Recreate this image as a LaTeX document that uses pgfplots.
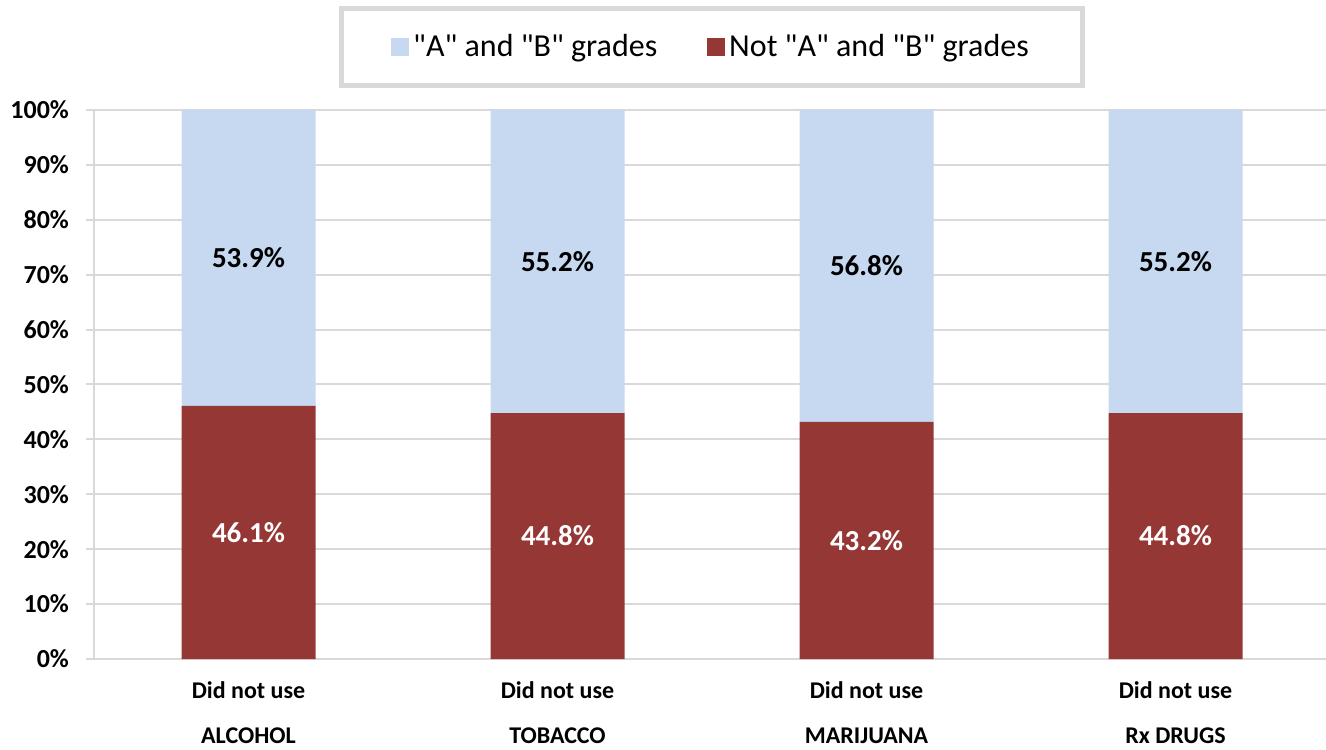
\documentclass[border=0pt]{standalone}
\usepackage{pgfplots}
\pgfplotsset{compat=1.18}
\usepackage{pgfplotstable}
\usepackage{fontspec}
\setmainfont{Carlito}[Ligatures=TeXOff]

\definecolor{gradeAB}{HTML}{C6D9F1}
\definecolor{gradeNot}{HTML}{953735}
\definecolor{gridgray}{HTML}{D9D9D9}

% share of students by grades, among those who did not use each substance
\pgfplotstableread{
x red blue
0 46.1 53.9
1 44.8 55.2
2 43.2 56.8
3 44.8 55.2
}\grades

\begin{document}
\begin{tikzpicture}
\pgfplotsset{
  frame/.style={
    width=616pt, height=274.5pt, scale only axis,
    xmin=-0.5, xmax=3.487, ymin=0, ymax=100,
    /pgf/number format/assume math mode=true,
  }
}
\begin{axis}[frame,
  ybar stacked, bar width=67pt,
  axis x line*=bottom, axis y line*=left,
  axis line style={-, gridgray, line width=1pt},
  ymajorgrids, grid style={gridgray, line width=1pt},
  ytick={0,10,...,100},
  yticklabel={\pgfmathprintnumber{\tick}\%},
  yticklabel style={font=\fontsize{13}{15}\selectfont\bfseries, xshift=-5pt},
  tick align=outside, major tick length=4pt,
  ytick style={gridgray, line width=1pt},
  xtick={0,1,2,3}, xtick style={draw=none},
  xticklabels={{Did not use\\[10.5pt]ALCOHOL},{Did not use\\[10.5pt]TOBACCO},{Did not use\\[10.5pt]MARIJUANA},{Did not use\\[10.5pt]Rx DRUGS}},
  xticklabel style={font=\fontsize{12}{12}\selectfont\bfseries, align=center, yshift=-4pt},
  legend columns=2,
  reverse legend,
  legend image code/.code={\fill[#1] (0pt,-4.5pt) rectangle (9pt,4.5pt);},
  legend style={at={(0.5016,1.115)}, anchor=center, draw=gridgray, line width=2.5pt,
    font=\fontsize{16}{19}\selectfont, inner xsep=25pt, inner ysep=11pt,
    /tikz/every even column/.append style={column sep=23pt}},
]
\addplot[fill=gradeNot, draw=none] table[x=x, y=red]{\grades};
\addlegendentry{Not "A" and "B" grades}
\addplot[fill=gradeAB, draw=none] table[x=x, y=blue]{\grades};
\addlegendentry{"A" and "B" grades}
\end{axis}

% value labels, centred in each segment
\begin{axis}[frame, hide axis,
  nodes near coords={\pgfmathprintnumber[fixed,fixed zerofill,precision=1]{\pgfplotspointmeta}\%},
  nodes near coords align=center,
  every node near coord/.append style={font=\fontsize{14.5}{16}\selectfont\bfseries},
]
\addplot[draw=none, point meta=explicit, every node near coord/.append style={text=white}]
  table[x=x, y expr=\thisrow{red}/2, meta=red]{\grades};
\addplot[draw=none, point meta=explicit, every node near coord/.append style={text=black}]
  table[x=x, y expr=\thisrow{red}+\thisrow{blue}/2, meta=blue]{\grades};
\end{axis}

\pgfresetboundingbox
\useasboundingbox (-47pt,-45pt) rectangle (616pt,329.5pt);
\end{tikzpicture}
\end{document}
